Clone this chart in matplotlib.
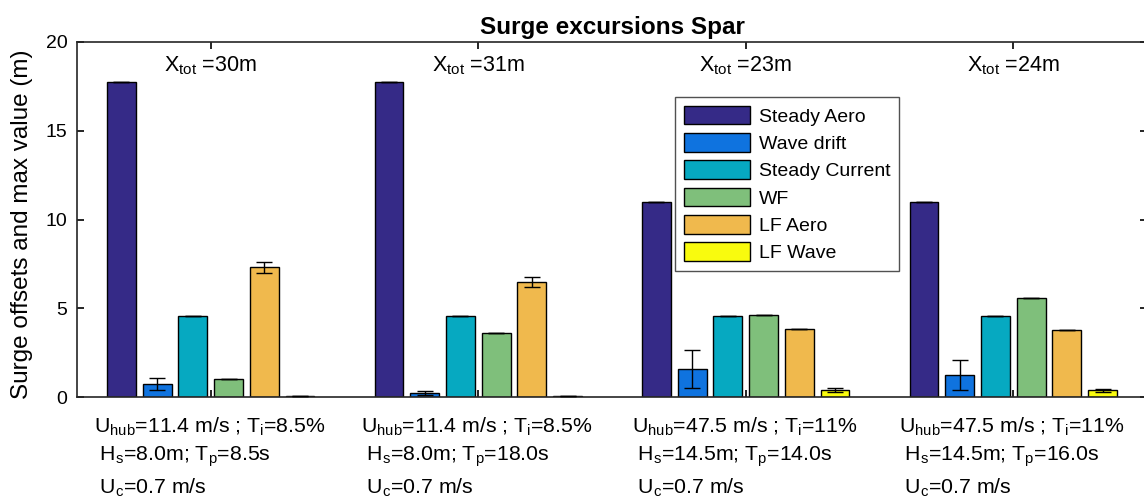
import numpy as np
import matplotlib
matplotlib.use("Agg")
import matplotlib.pyplot as plt
from matplotlib.patches import Patch

plt.rcParams['font.family'] = ['Liberation Sans', 'DejaVu Sans']
plt.rcParams['mathtext.fontset'] = 'custom'
plt.rcParams['mathtext.rm'] = 'Liberation Sans'
plt.rcParams['mathtext.it'] = 'Liberation Sans'

series = ["Steady Aero", "Wave drift", "Steady Current", "WF", "LF Aero", "LF Wave"]
colors = ["#352A87", "#0F73DF", "#06A9C1", "#7FBF7B", "#F0B94D", "#F9FB0E"]

steady_aero = [17.75, 17.75, 11.0, 10.98]
wave_drift = [0.75, 0.25, 1.56, 1.25]
steady_current = [4.58, 4.58, 4.58, 4.58]
wf = [1.0, 3.62, 4.6, 5.6]
lf_aero = [7.3, 6.48, 3.81, 3.75]
lf_wave = [0.08, 0.05, 0.38, 0.38]

err_steady_aero = [0.0, 0.0, 0.0, 0.0]
err_wave_drift = [0.34, 0.11, 1.06, 0.83]
err_steady_current = [0.0, 0.0, 0.0, 0.0]
err_wf = [0.0, 0.0, 0.0, 0.0]
err_lf_aero = [0.29, 0.28, 0.0, 0.0]
err_lf_wave = [0.0, 0.0, 0.1, 0.08]

x_tot = ["30m", "31m", "23m", "24m"]
tick_labels = [
    "U$_{\\rm hub}$=11.4 m/s ; T$_{\\rm i}$=8.5%\n H$_{\\rm s}$=8.0m; T$_{\\rm p}$=8.5s\n U$_{\\rm c}$=0.7 m/s",
    "U$_{\\rm hub}$=11.4 m/s ; T$_{\\rm i}$=8.5%\n H$_{\\rm s}$=8.0m; T$_{\\rm p}$=18.0s\n U$_{\\rm c}$=0.7 m/s",
    "U$_{\\rm hub}$=47.5 m/s ; T$_{\\rm i}$=11%\n H$_{\\rm s}$=14.5m; T$_{\\rm p}$=14.0s\n U$_{\\rm c}$=0.7 m/s",
    "U$_{\\rm hub}$=47.5 m/s ; T$_{\\rm i}$=11%\n H$_{\\rm s}$=14.5m; T$_{\\rm p}$=16.0s\n U$_{\\rm c}$=0.7 m/s",
]

values = [steady_aero, wave_drift, steady_current, wf, lf_aero, lf_wave]
errors = [err_steady_aero, err_wave_drift, err_steady_current, err_wf, err_lf_aero, err_lf_wave]

fig = plt.figure(figsize=(11.44, 4.97), dpi=100)
ax = fig.add_axes([0.0673, 0.2012, 0.9353, 0.7143])

groups = np.arange(1, 5)
pitch = 0.1335
width = 0.108
for i, (vals, errs, c, name) in enumerate(zip(values, errors, colors, series)):
    xs = groups + (i - 2.5) * pitch
    ax.bar(xs, vals, width=width, color=c, edgecolor='black', linewidth=1.0, label=name, zorder=2)
    ax.errorbar(xs, vals, yerr=errs, fmt='none', ecolor='black', elinewidth=1.0,
                capsize=5.5, capthick=1.0, zorder=3)

for g, xt in zip(groups, x_tot):
    ax.text(g, 18.65, "X$_{\\rm tot}$ =" + xt, ha='center', va='center', fontsize=15.5)

ax.set_xlim(0.5, 4.5)
ax.set_ylim(0, 20)
ax.set_yticks([0, 5, 10, 15, 20])
ax.set_xticks(groups)
ax.set_xticklabels([])
for g, lab in zip(groups, tick_labels):
    ax.text(g - 0.005, -1.05, lab, ha='center', va='top', multialignment='left', fontsize=15.3,
            linespacing=1.42, transform=ax.transData)

ax.tick_params(axis='both', direction='in', length=5, width=1.2, top=True, right=True, labelsize=14)
ax.tick_params(axis='y', pad=7)
for s in ax.spines.values():
    s.set_linewidth(1.2)
    s.set_color('#262626')

ax.set_ylabel("Surge offsets and max value (m)", fontsize=17.5)
ax.yaxis.set_label_coords(-0.041, 0.488)
ax.set_title("Surge excursions Spar", fontsize=17.5, fontweight='bold', pad=6)

handles = [Patch(facecolor=c, edgecolor='black', linewidth=1.0) for c in colors]
leg = ax.legend(handles, series, loc='upper left', bbox_to_anchor=(0.559, 0.845), fontsize=14,
                frameon=True, fancybox=False, edgecolor='#262626', handlelength=3.4, handleheight=1.1,
                labelspacing=0.38, borderpad=0.45, handletextpad=0.45, borderaxespad=0)
leg.get_frame().set_linewidth(1.0)

fig.savefig("out.png", dpi=100)
